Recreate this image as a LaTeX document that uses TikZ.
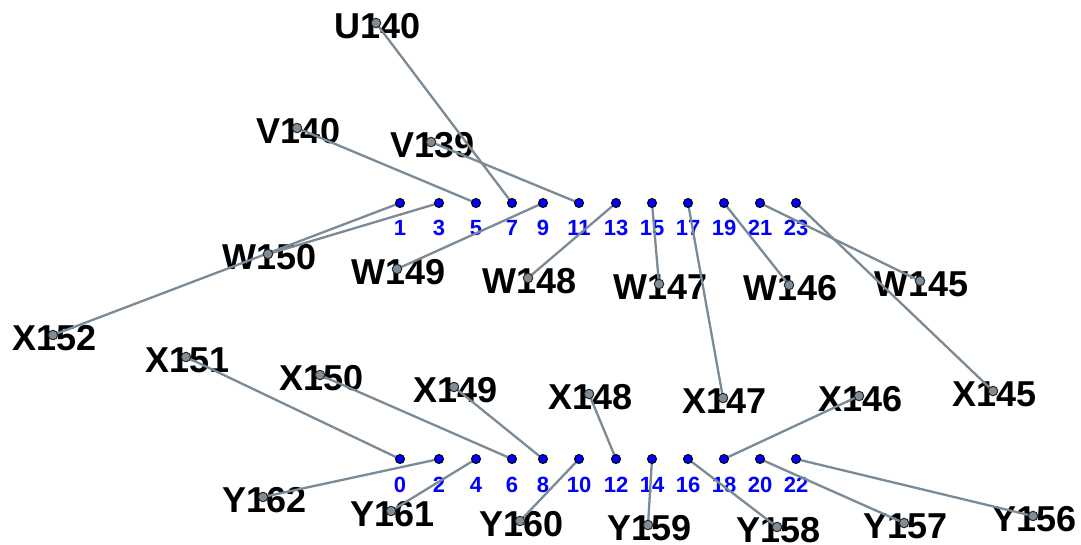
\documentclass[tikz,border=0pt]{standalone}
\usepackage{fontspec}
\setmainfont{Liberation Sans}
\pgfdeclarelayer{txt}
\pgfdeclarelayer{ln}
\pgfsetlayers{txt,ln,main}
\definecolor{pinblue}{RGB}{0,0,255}
\definecolor{linegray}{RGB}{122,138,150}
\definecolor{dotgray}{RGB}{128,140,150}
\definecolor{dotedge}{RGB}{40,40,40}
\tikzset{
  pin/.style={circle,fill=pinblue,draw=black,line width=1pt,inner sep=0pt,minimum size=9pt},
  ldot/.style={circle,fill=dotgray,draw=dotedge,line width=1pt,inner sep=0pt,minimum size=9.5pt},
  lbl/.style={inner sep=0pt,font=\fontsize{36}{40}\selectfont\bfseries,text=black},
  num/.style={inner sep=0pt,font=\fontsize{22}{24}\selectfont\bfseries,text=pinblue},
  conn/.style={draw=linegray,line width=2.3pt}
}
\begin{document}
\begin{tikzpicture}[x=1pt,y=-1pt]
\useasboundingbox (0,0) rectangle (1081,544);
% pins
\foreach \n/\x in {1/400,3/439,5/476,7/512,9/543,11/579,13/616,15/652,17/688,19/724,21/760,23/796}{
  \node[pin] (p\n) at (\x,203) {};
  \begin{pgfonlayer}{txt}\node[num] (n\n) at (\x,228) {\n};\end{pgfonlayer}
}
\foreach \n/\x in {0/400,2/439,4/476,6/512,8/543,10/579,12/616,14/652,16/688,18/724,20/760,22/796}{
  \node[pin] (p\n) at (\x,459) {};
  \begin{pgfonlayer}{txt}\node[num] (n\n) at (\x,485) {\n};\end{pgfonlayer}
}
% labels: name/x/y/pin
\foreach \t/\x/\y/\p in {
  U140/376/23/7, V140/297/128/5, V139/431/142/11,
  W150/268/254/3, X152/53/335/1, W149/397/269/9, W148/528/278/13,
  W147/659/284/15, W146/789/285/19, W145/920/281/21,
  X147/723/398/17, X145/993/391/23,
  X151/186/357/0, X150/320/375/6, X149/454/387/8, X148/589/394/12, X146/859/396/18,
  Y162/263/497/2, Y161/391/511/4, Y160/520/521/10, Y159/648/525/14,
  Y158/777/527/16, Y157/904/523/20, Y156/1033/516/22}{
  \begin{pgfonlayer}{txt}\node[lbl] (t\t) at (\x+1.5,\y+3) {\t};\end{pgfonlayer}
  \node[ldot] (d\t) at (\x,\y) {};
  \begin{pgfonlayer}{ln}\draw[conn] (d\t.center) -- (p\p.center);\end{pgfonlayer}
}
\end{tikzpicture}
\end{document}
